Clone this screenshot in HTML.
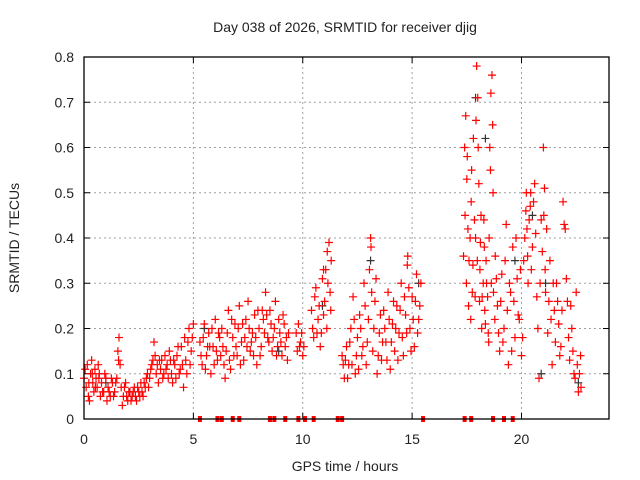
<!DOCTYPE html>
<html><head><meta charset="utf-8"><style>
body{margin:0;background:#fff}
svg{display:block;font-family:"Liberation Sans",sans-serif}
</style></head><body>
<svg id="chart" width="640" height="480">
<rect width="640" height="480" fill="#fff"/>
<text x="345" y="32" font-size="14" text-anchor="middle" fill="#222">Day 038 of 2026, SRMTID for receiver djig</text>
<text x="345" y="471" font-size="14" text-anchor="middle" fill="#222">GPS time / hours</text>
<text transform="translate(19,238) rotate(-90)" font-size="14" text-anchor="middle" fill="#222">SRMTID / TECUs</text>
<g id="grid"></g>
<g id="axes"></g>
<g id="marks"></g>
<rect x="84" y="57" width="525" height="362" fill="none" stroke="#000" stroke-width="1.3"/>
</svg>
<script>
const xTicks=[0,5,10,15,20];
const yTicks=[0,0.1,0.2,0.3,0.4,0.5,0.6,0.7,0.8];
const yTickLabels=["0","0.1","0.2","0.3","0.4","0.5","0.6","0.7","0.8"];
const redTimes=[0.0,0.1,0.15,0.2,0.3,0.35,0.4,0.45,0.5,0.55,
0.6,0.7,0.75,0.8,0.9,1.0,1.05,1.1,1.2,1.3,
1.4,1.5,1.55,1.6,1.65,1.7,1.8,1.9,2.0,2.1,
2.2,2.3,2.4,2.5,2.6,2.7,2.8,2.9,3.0,3.1,
3.2,3.25,3.3,3.4,3.5,3.6,3.7,3.8,3.9,4.0,
4.1,4.2,4.3,4.4,4.5,4.6,4.7,4.8,4.9,5.0,
5.3,5.4,5.5,5.6,5.7,5.8,5.9,6.0,6.1,6.2,
6.3,6.4,6.5,6.6,6.7,6.8,6.9,7.0,7.1,7.2,
7.3,7.4,7.5,7.6,7.7,7.8,7.9,8.0,8.1,8.2,
8.3,8.4,8.5,8.6,8.7,8.8,8.9,9.0,9.1,9.2,
9.3,9.7,9.75,9.8,9.9,10.0,10.4,10.5,10.6,10.7,
10.8,10.9,11.0,11.05,11.1,11.2,11.25,11.3,11.8,11.9,
12.0,12.1,12.2,12.3,12.4,12.5,12.6,12.7,12.8,12.9,
13.0,13.05,13.1,13.2,13.3,13.4,13.5,13.6,13.7,13.8,
13.9,14.0,14.1,14.2,14.3,14.4,14.5,14.6,14.7,14.8,
14.9,15.0,15.1,15.2,15.3,15.4,17.4,17.45,17.5,17.55,
17.6,17.7,17.75,17.8,17.9,17.95,18.0,18.05,18.1,18.15,
18.2,18.3,18.35,18.4,18.5,18.55,18.6,18.65,18.7,18.8,
18.9,19.0,19.1,19.2,19.3,19.4,19.5,19.6,19.7,19.8,
19.9,20.0,20.1,20.2,20.25,20.3,20.4,20.5,20.6,20.7,
20.8,20.9,21.0,21.05,21.1,21.2,21.3,21.4,21.5,21.6,
21.7,21.8,21.9,22.0,22.1,22.2,22.3,22.4,22.5,22.6,
22.7,0.25,0.65,1.75,3.45,4.55,5.65,6.45,7.65,8.15];
const redValues=[.09,.07,.12,.05,.10,.13,.08,.06,.11,.09,
.07,.10,.05,.08,.06,.09,.04,.07,.05,.08,
.06,.09,.15,.18,.12,.07,.05,.08,.04,.06,
.05,.07,.04,.06,.08,.05,.07,.10,.09,.12,
.17,.14,.10,.08,.11,.09,.14,.12,.15,.10,
.13,.09,.16,.11,.12,.18,.10,.20,.15,.21,
.17,.12,.21,.14,.19,.10,.16,.22,.13,.18,
.20,.12,.15,.24,.11,.18,.21,.14,.25,.17,
.13,.22,.26,.15,.19,.23,.12,.20,.16,.22,
.28,.18,.24,.15,.20,.14,.22,.17,.23,.16,
.13,.19,.15,.21,.17,.14,.24,.18,.29,.22,
.16,.31,.26,.33,.20,.39,.28,.35,.14,.09,
.16,.12,.20,.27,.10,.18,.23,.14,.30,.12,
.22,.33,.40,.15,.26,.10,.19,.13,.24,.17,
.28,.11,.21,.15,.25,.19,.30,.14,.23,.36,
.20,.27,.16,.32,.22,.30,.60,.67,.53,.42,
.35,.48,.28,.62,.40,.78,.71,.52,.33,.45,
.27,.38,.21,.30,.17,.60,.72,.76,.50,.36,
.25,.15,.32,.20,.43,.12,.28,.38,.18,.31,
.22,.14,.35,.46,.42,.30,.47,.38,.52,.27,
.09,.44,.60,.51,.28,.19,.35,.12,.24,.30,
.21,.16,.48,.42,.26,.13,.20,.10,.28,.06,
.14,.04,.12,.03,.13,.07,.16,.09,.17,.24];
const redTimes2=[0.05,0.22,0.38,0.52,0.68,0.85,0.95,1.15,1.25,1.35,
1.45,1.58,1.85,1.95,2.05,2.15,2.25,2.35,2.45,2.55,
2.65,2.75,2.85,2.95,3.05,3.15,3.35,3.55,3.65,3.75,
3.85,3.95,4.05,4.15,4.25,4.35,4.45,4.65,4.75,4.85,
4.95,5.35,5.45,5.55,5.75,5.85,5.95,6.05,6.15,6.25,
6.35,6.55,6.65,6.75,6.85,6.95,7.05,7.15,7.25,7.35,
7.45,7.55,7.75,7.85,7.95,8.05,8.25,8.35,8.45,8.55,
8.65,8.75,8.85,8.95,9.05,9.15,9.25,9.35,9.85,9.95,
10.05,10.45,10.55,10.65,10.75,10.85,10.95,11.15,11.28,11.85,
11.95,12.05,12.15,12.25,12.35,12.45,12.55,12.65,12.75,12.85,
12.95,13.15,13.25,13.35,13.45,13.55,13.65,13.75,13.85,13.95,
14.05,14.15,14.25,14.35,14.45,14.55,14.65,14.75,14.85,14.95,
15.05,15.15,15.25,15.35,17.35,17.42,17.48,17.52,17.58,17.65,
17.68,17.72,17.78,17.85,17.88,17.92,17.98,18.02,18.08,18.12,
18.18,18.25,18.28,18.32,18.38,18.45,18.48,18.52,18.58,18.62,
18.68,18.72,18.78,18.85,18.95,19.05,19.15,19.25,19.35,19.45,
19.55,19.65,19.75,19.85,19.95,20.05,20.15,20.22,20.28,20.35,
20.45,20.55,20.65,20.75,20.85,20.95,21.02,21.08,21.15,21.25,
21.35,21.45,21.55,21.65,21.75,21.85,21.95,22.05,22.15,22.25,
22.35,22.45,22.55,22.65,22.72,13.12,10.95,14.78,11.12,20.42];
const redValues2=[.11,.08,.10,.07,.09,.06,.10,.06,.09,.05,
.08,.13,.07,.05,.06,.04,.06,.05,.07,.05,
.06,.08,.09,.07,.11,.13,.12,.13,.10,.11,
.09,.13,.08,.12,.14,.10,.16,.13,.17,.12,
.18,.14,.18,.11,.16,.20,.12,.15,.19,.14,
.16,.19,.13,.22,.14,.16,.20,.12,.21,.18,
.16,.20,.14,.18,.24,.14,.19,.23,.17,.21,
.18,.26,.16,.19,.14,.21,.18,.19,.16,.19,
.16,.20,.27,.19,.25,.19,.23,.30,.24,.12,
.13,.09,.17,.12,.22,.14,.11,.20,.16,.25,
.17,.28,.20,.31,.14,.23,.17,.20,.13,.22,
.17,.26,.20,.13,.24,.18,.27,.19,.29,.15,
.22,.26,.19,.25,.36,.45,.30,.58,.25,.40,
.22,.55,.34,.44,.27,.66,.35,.60,.26,.39,
.20,.30,.44,.24,.35,.27,.19,.40,.55,.30,
.65,.28,.22,.31,.19,.26,.17,.35,.24,.30,
.15,.26,.40,.23,.33,.18,.40,.50,.36,.44,
.33,.48,.41,.20,.30,.37,.45,.33,.42,.26,
.22,.30,.17,.26,.14,.24,.43,.31,.18,.25,
.15,.09,.12,.10,.07,.38,.33,.34,.37,.50];
const darkTimes=[1.0,5.5,8.9,10.9,13.1,15.3,17.9,18.35,19.7,20.5,20.9,21.1,22.6];
const darkValues=[.08,.20,.15,.25,.35,.30,.71,.62,.35,.45,.10,.30,.08];
const zeroTimes=[5.3,6.1,6.3,6.8,7.1,8.5,8.7,9.2,9.8,10.1,10.5,11.6,11.8,15.5,17.4,17.7,18.7,19.2,19.6];

const NS="http://www.w3.org/2000/svg";
const X0=84,X1=609,Y0=419,Y1=57,XMAX=24,YMAX=0.8;
function sx(t){return X0+(X1-X0)*t/XMAX;}
function sy(v){return Y0-(Y0-Y1)*v/YMAX;}
function mk(tag,attrs,parent){const e=document.createElementNS(NS,tag);for(const k in attrs)e.setAttribute(k,attrs[k]);parent.appendChild(e);return e;}
const grid=document.getElementById('grid'),axes=document.getElementById('axes'),marks=document.getElementById('marks');
yTicks.forEach((v,i)=>{
  const y=sy(v);
  if(i>0&&i<yTicks.length-1){const g=mk('line',{x1:X0,x2:X1,y1:y,y2:y,stroke:'#a0a0a0','stroke-dasharray':'2,3'},grid);
  
  }
  mk('line',{x1:X0,x2:X0+6,y1:y,y2:y,stroke:'#000'},axes);
  mk('line',{x1:X1-6,x2:X1,y1:y,y2:y,stroke:'#000'},axes);
  const l=mk('text',{x:74,y:y+5,'font-size':14,'text-anchor':'end',fill:'#222'},axes);
  l.textContent=yTickLabels[i];
  
  
});
xTicks.forEach(t=>{
  const x=sx(t);
  if(t>0){const g=mk('line',{x1:x,x2:x,y1:Y0,y2:Y1,stroke:'#a0a0a0','stroke-dasharray':'2,3'},grid);
  
  }
  mk('line',{x1:x,x2:x,y1:Y0,y2:Y0-6,stroke:'#000'},axes);
  mk('line',{x1:x,x2:x,y1:Y1,y2:Y1+6,stroke:'#000'},axes);
  const l=mk('text',{x:x,y:444,'font-size':14,'text-anchor':'middle',fill:'#222'},axes);
  l.textContent=String(t);
  
  
});
function plus(t,v,col,name){
  const x=sx(t),y=sy(v);
  const p=mk('path',{d:`M${x-4},${y}H${x+4}M${x},${y-4}V${y+4}`,stroke:col,'stroke-width':1.2,fill:'none'},marks);
  
  
}
darkTimes.forEach((t,i)=>plus(t,darkValues[i],'#333','dark-point'));
redTimes.forEach((t,i)=>plus(t,redValues[i],'#f00','srmtid-point'));
redTimes2.forEach((t,i)=>plus(t,redValues2[i],'#f00','srmtid-point'));
zeroTimes.forEach(t=>{
  const r=mk('rect',{x:sx(t)-2,y:Y0-3,width:4,height:6,fill:'#f00'},marks);
  
  
});
</script>
</body></html>
